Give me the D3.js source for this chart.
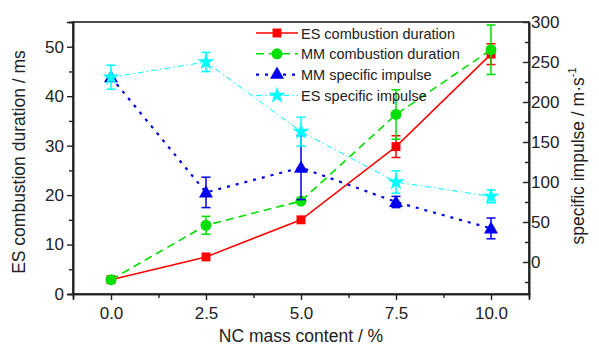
<!DOCTYPE html>
<html><head><meta charset="utf-8">
<script src="https://cdn.jsdelivr.net/npm/d3@7"></script>
<style>
body{margin:0;background:#fff;}
text{font-family:"Liberation Sans",Arial,sans-serif;fill:#222;}
</style></head>
<body><svg id="c" width="599" height="347"></svg>
<script>
const xValues = [0, 2.5, 5.0, 7.5, 10.0];
const xTickLabels = ["0.0", "2.5", "5.0", "7.5", "10.0"];
const esDuration = [2.9, 7.5, 15.0, 29.8, 48.5];
const esDurationErr = [0, 0, 0, 2.2, 2.1];
const mmDuration = [2.9, 13.9, 18.8, 36.3, 49.4];
const mmDurationErr = [0, 1.8, 0, 5.0, 5.0];
const mmImpulse = [231, 87, 118, 75, 42];
const mmImpulseErr = [0, 19, 40, 7, 13];
const esImpulse = [231, 250, 163, 100, 82];
const esImpulseErr = [15, 12, 18, 14, 8];
const leftTicks = [0, 10, 20, 30, 40, 50];
const rightTicks = [0, 50, 100, 150, 200, 250, 300];
const seriesNames = ["ES combustion duration", "MM combustion duration", "MM specific impulse", "ES specific impulse"];

const svg = d3.select("#c");
const L = 73, R = 529, T = 22, B = 294;
const x = d3.scaleLinear().domain([-1, 11]).range([L, R]);
const yL = d3.scaleLinear().domain([0, 55]).range([B, T]);
const yR = d3.scaleLinear().domain([-40, 300]).range([B, T]);
const axisColor = "#222";

const series = [
  {name: seriesNames[0], vals: esDuration, err: esDurationErr, y: yL, color: "#ff0000", dash: null, w: 1.5, sym: d3.symbolSquare, size: 80},
  {name: seriesNames[1], vals: mmDuration, err: mmDurationErr, y: yL, color: "#00e000", dash: "8,5", w: 1.6, sym: d3.symbolCircle, size: 95},
  {name: seriesNames[2], vals: mmImpulse, err: mmImpulseErr, y: yR, color: "#0000ee", dash: "3,6", w: 2.2, sym: d3.symbolTriangle, size: 85},
  {name: seriesNames[3], vals: esImpulse, err: esImpulseErr, y: yR, color: "#00ffff", dash: "6,3,1.5,3", w: 1.0, sym: d3.symbolStar, size: 90}
];

// frame
svg.append("rect").attr("x", L).attr("y", T).attr("width", R - L).attr("height", B - T)
  .attr("fill", "none").attr("stroke", axisColor).attr("stroke-width", 1.6);

// bottom axis
const gx = svg.append("g").attr("transform", `translate(0,${B})`);
gx.call(d3.axisBottom(x).tickValues(xValues).tickFormat((d, i) => xTickLabels[i]).tickSize(6).tickPadding(7));
gx.append("g").call(d3.axisBottom(x).tickValues([1.25, 3.75, 6.25, 8.75]).tickSize(4).tickFormat(""));
// left axis
const gl = svg.append("g").attr("transform", `translate(${L},0)`);
gl.call(d3.axisLeft(yL).tickValues(leftTicks).tickSize(6).tickPadding(3));
gl.append("g").call(d3.axisLeft(yL).tickValues([5, 15, 25, 35, 45, 55]).tickSize(4).tickFormat(""));
// right axis with inward ticks
const gr = svg.append("g").attr("transform", `translate(${R},0)`);
gr.call(d3.axisRight(yR).tickValues(rightTicks).tickSizeInner(-6).tickSizeOuter(0).tickPadding(2));
gr.append("g").call(d3.axisRight(yR).tickValues([-25, 25, 75, 125, 175, 225, 275]).tickSizeInner(-4).tickSizeOuter(0).tickFormat(""));

svg.selectAll(".domain").attr("stroke", axisColor).attr("stroke-width", 1.6);
svg.selectAll(".tick line").attr("stroke", axisColor).attr("stroke-width", 1.4);
svg.selectAll(".tick text").style("font-size", "17px").attr("fill", "#222");

// titles
svg.append("text").attr("x", (L + R) / 2).attr("y", 342).attr("text-anchor", "middle")
  .style("font-size", "17.5px").text("NC mass content / %");
svg.append("text").attr("transform", `translate(25,${(T + B) / 2 + 4}) rotate(-90)`).attr("text-anchor", "middle")
  .style("font-size", "17.5px").text("ES combustion duration / ms");
const rt = svg.append("text").attr("transform", `translate(584,${(T + B) / 2 - 2}) rotate(-90)`).attr("text-anchor", "middle")
  .style("font-size", "17.5px");
rt.append("tspan").text("specific impulse / m·s");
rt.append("tspan").attr("dy", -8).style("font-size", "11px").text("-1");

// series
const plot = svg.append("g");
series.forEach(s => {
  const pts = xValues.map((xv, i) => [x(xv), s.y(s.vals[i])]);
  plot.append("path").attr("d", d3.line()(pts)).attr("fill", "none")
    .attr("stroke", s.color).attr("stroke-width", s.w).attr("stroke-dasharray", s.dash);
});
series.forEach(s => {
  xValues.forEach((xv, i) => {
    const e = s.err[i];
    if (e > 0) {
      const cx = x(xv), y1 = s.y(s.vals[i] + e), y2 = s.y(s.vals[i] - e);
      const g = plot.append("g").attr("stroke", s.color).attr("stroke-width", 1.5);
      g.append("line").attr("x1", cx).attr("x2", cx).attr("y1", y1).attr("y2", y2);
      g.append("line").attr("x1", cx - 4.5).attr("x2", cx + 4.5).attr("y1", y1).attr("y2", y1);
      g.append("line").attr("x1", cx - 4.5).attr("x2", cx + 4.5).attr("y1", y2).attr("y2", y2);
    }
  });
  xValues.forEach((xv, i) => {
    plot.append("path").attr("d", d3.symbol().type(s.sym).size(s.size)())
      .attr("transform", `translate(${x(xv)},${s.y(s.vals[i]) + (s.sym === d3.symbolTriangle ? 1 : 0)})`)
      .attr("fill", s.color);
  });
});

// legend
const lg = svg.append("g");
series.forEach((s, i) => {
  const ly = 33 + i * 20.8;
  lg.append("line").attr("x1", 256).attr("x2", 298).attr("y1", ly).attr("y2", ly)
    .attr("stroke", s.color).attr("stroke-width", s.w).attr("stroke-dasharray", s.dash);
  lg.append("path").attr("d", d3.symbol().type(s.sym).size(s.size)())
    .attr("transform", `translate(277,${ly})`).attr("fill", s.color);
  lg.append("text").attr("x", 301).attr("y", ly + 5.5).style("font-size", "14.5px").text(s.name);
});
</script></body></html>
